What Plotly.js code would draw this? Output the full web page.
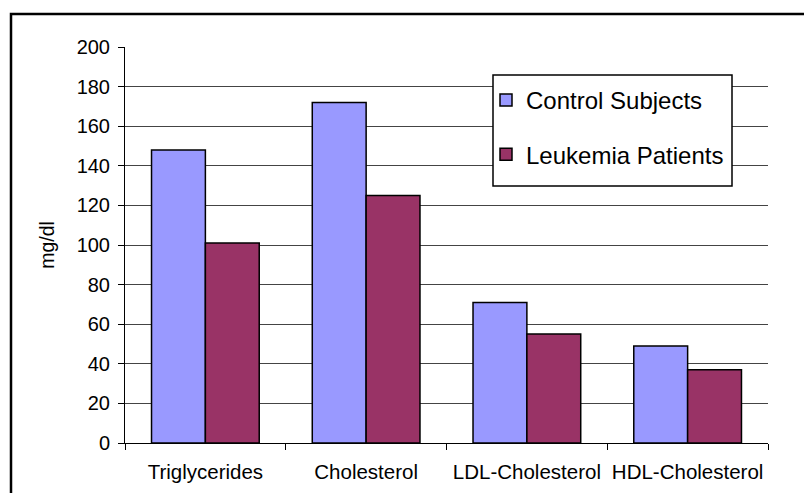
<!DOCTYPE html>
<html>
<head>
<meta charset="utf-8">
<script src="https://cdn.plot.ly/plotly-3.0.1.min.js"></script>
<style>html,body{margin:0;padding:0;background:#fff;}#chart{width:804px;height:493px;}</style>
</head>
<body>
<div id="chart"></div>
<script>
const categories = ["Triglycerides", "Cholesterol", "LDL-Cholesterol", "HDL-Cholesterol"];
const controlSubjects = [148, 172, 71, 49];
const leukemiaPatients = [101, 125, 55, 37];
const yTicks = [0, 20, 40, 60, 80, 100, 120, 140, 160, 180, 200];

const FONT = "Liberation Sans, Arial, sans-serif";

const traces = [
  {
    type: "bar", name: "Control Subjects", x: categories, y: controlSubjects,
    marker: {color: "#9999FF", line: {color: "#000", width: 1.5}},
    legendgroup: "a", hoverinfo: "y"
  },
  {
    type: "bar", name: "Leukemia Patients", x: categories, y: leukemiaPatients,
    marker: {color: "#993366", line: {color: "#000", width: 1.5}},
    legendgroup: "b", hoverinfo: "y"
  }
];

const W = 643, H = 396, L = 125, T = 47;
const px = v => (v - L) / W;
const py = v => (T + H - v) / H;

const layout = {
  width: 804, height: 493,
  margin: {l: 125, r: 36, t: 47, b: 50},
  paper_bgcolor: "#fff", plot_bgcolor: "#fff",
  font: {family: FONT, color: "#000"},
  barmode: "group", bargap: 0.33, bargroupgap: 0,
  showlegend: true,
  legend: {
    x: px(486), y: py(78), xanchor: "left", yanchor: "top",
    bgcolor: "rgba(0,0,0,0)", borderwidth: 0,
    font: {family: FONT, size: 24, color: "#000"},
    traceorder: "grouped", tracegroupgap: 20, itemwidth: 30
  },
  xaxis: {
    type: "category",
    showline: true, linecolor: "#000", linewidth: 1,
    ticks: "outside", ticklen: 6, tickcolor: "#000",
    tickson: "boundaries",
    tickfont: {family: FONT, size: 20.5, color: "#000"},
    ticklabelstandoff: 10,
    showgrid: false, zeroline: false, fixedrange: true
  },
  yaxis: {
    range: [0, 200], tickvals: yTicks, ticktext: yTicks.map(String),
    showline: true, linecolor: "#000", linewidth: 1,
    ticks: "outside", ticklen: 6, tickcolor: "#000",
    tickfont: {family: FONT, size: 20, color: "#000"},
    ticklabelstandoff: 4,
    showgrid: true, gridcolor: "#444", gridwidth: 1,
    zeroline: false, fixedrange: true,
    title: {text: "mg/dl", font: {family: FONT, size: 19.5, color: "#000"}, standoff: 16}
  },
  shapes: [
    {type: "rect", xref: "paper", yref: "paper",
     x0: px(493), x1: px(732), y0: py(186), y1: py(75),
     line: {color: "#000", width: 1.5}, fillcolor: "#fff", layer: "above"},
    {type: "rect", xref: "paper", yref: "paper",
     x0: px(11), x1: px(810), y0: py(500), y1: py(14),
     line: {color: "#000", width: 2.5}, fillcolor: "rgba(0,0,0,0)", layer: "above"}
  ]
};

Plotly.newPlot("chart", traces, layout, {displayModeBar: false, staticPlot: true});
</script>
</body>
</html>
